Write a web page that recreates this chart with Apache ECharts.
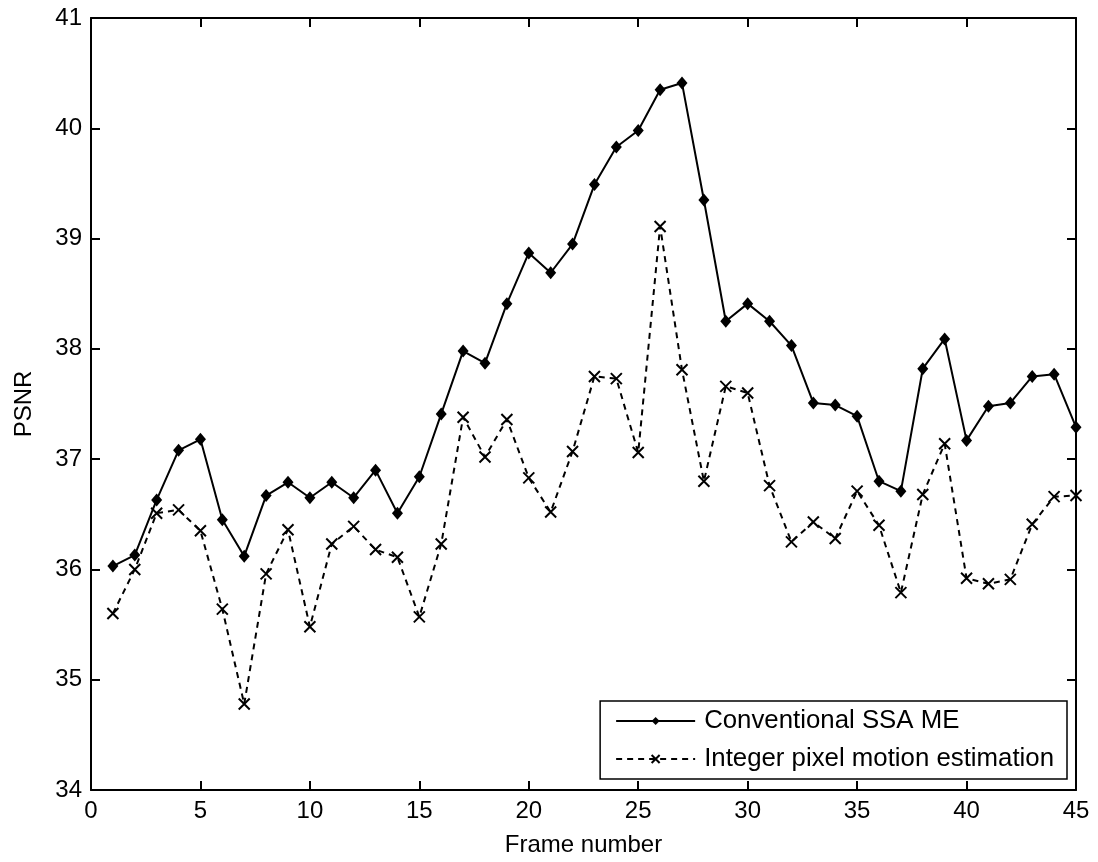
<!DOCTYPE html>
<html>
<head>
<meta charset="utf-8">
<script src="https://cdn.jsdelivr.net/npm/echarts@6/dist/echarts.min.js"></script>
<style>
html,body{margin:0;padding:0;background:#fff;}
#chart{width:1098px;height:862px;}
</style>
</head>
<body>
<div id="chart"></div>
<script>
const frames = [1,2,3,4,5,6,7,8,9,10,11,12,13,14,15,16,17,18,19,20,21,22,23,24,25,26,27,28,29,30,31,32,33,34,35,36,37,38,39,40,41,42,43,44,45];
const conventionalSSA = [36.03,36.13,36.63,37.08,37.18,36.45,36.12,36.67,36.79,36.65,36.79,36.65,36.90,36.51,36.84,37.41,37.98,37.87,38.41,38.87,38.69,38.95,39.49,39.83,39.98,40.35,40.41,39.35,38.25,38.41,38.25,38.03,37.51,37.49,37.39,36.80,36.71,37.82,38.09,37.17,37.48,37.51,37.75,37.77,37.29];
const integerPixel = [35.60,36.00,36.51,36.54,36.35,35.64,34.78,35.96,36.36,35.48,36.23,36.39,36.18,36.11,35.57,36.23,37.38,37.02,37.36,36.83,36.52,37.07,37.75,37.73,37.06,39.11,37.81,36.80,37.66,37.60,36.76,36.25,36.43,36.28,36.71,36.40,35.79,36.68,37.14,35.92,35.87,35.91,36.41,36.66,36.67];
const seriesNames = ['Conventional SSA ME','Integer pixel motion estimation'];
const xTicks = {min:0, max:45, interval:5};
const yTicks = {min:34, max:41, interval:1};

const FONT = '"Liberation Sans", Arial, sans-serif';
const chart = echarts.init(document.getElementById('chart'), null, {renderer:'canvas'});
const pair = (xs, ys) => xs.map((x,i)=>[x, ys[i]]);
const axisCommon = {
  axisLine:{show:true, onZero:false, lineStyle:{color:'#000', width:2}},
  axisTick:{show:true, inside:true, length:9, lineStyle:{color:'#000', width:2}},
  splitLine:{show:false}
};
chart.setOption({
  animation:false,
  backgroundColor:'#fff',
  grid:{left:91, top:18, right:22, bottom:72, containLabel:false},
  legend:{
    orient:'vertical', right:31, bottom:83,
    data:seriesNames,
    backgroundColor:'#fff', borderColor:'#000', borderWidth:1.5,
    padding:[7,13,7,15], itemGap:12,
    itemWidth:79, itemHeight:10,
    textStyle:{fontFamily:FONT, fontSize:25.8, color:'#000', lineHeight:26, padding:[0,0,0,4]}
  },
  xAxis:[
    Object.assign({type:'value', position:'bottom', min:xTicks.min, max:xTicks.max, interval:xTicks.interval,
      name:'Frame number', nameLocation:'middle', nameGap:43,
      nameTextStyle:{fontFamily:FONT, fontSize:24, color:'#000'},
      axisLabel:{fontFamily:FONT, fontSize:24, color:'#000', margin:9}}, axisCommon),
    Object.assign({type:'value', position:'top', min:xTicks.min, max:xTicks.max, interval:xTicks.interval,
      axisLabel:{show:false}}, axisCommon)
  ],
  yAxis:[
    Object.assign({type:'value', position:'left', min:yTicks.min, max:yTicks.max, interval:yTicks.interval,
      name:'PSNR', nameLocation:'middle', nameGap:55,
      nameTextStyle:{fontFamily:FONT, fontSize:24, color:'#000'},
      axisLabel:{fontFamily:FONT, fontSize:24, color:'#000', margin:9}}, axisCommon),
    Object.assign({type:'value', position:'right', min:yTicks.min, max:yTicks.max, interval:yTicks.interval,
      axisLabel:{show:false}}, axisCommon)
  ],
  series:[
    {
      name:seriesNames[0], type:'line', xAxisIndex:0, yAxisIndex:0,
      data:pair(frames, conventionalSSA),
      symbol:'diamond', symbolSize:[11,13],
      lineStyle:{color:'#000', width:2, type:'solid'},
      itemStyle:{color:'#000'}
    },
    {
      name:seriesNames[1], type:'line', xAxisIndex:0, yAxisIndex:0,
      data:pair(frames, integerPixel),
      symbol:'path://M0,0L10,10M10,0L0,10', symbolSize:11,
      lineStyle:{color:'#000', width:2, type:[6,5]},
      itemStyle:{color:'rgba(0,0,0,0)', borderColor:'#000', borderWidth:2}
    }
  ]
});
</script>
</body>
</html>
